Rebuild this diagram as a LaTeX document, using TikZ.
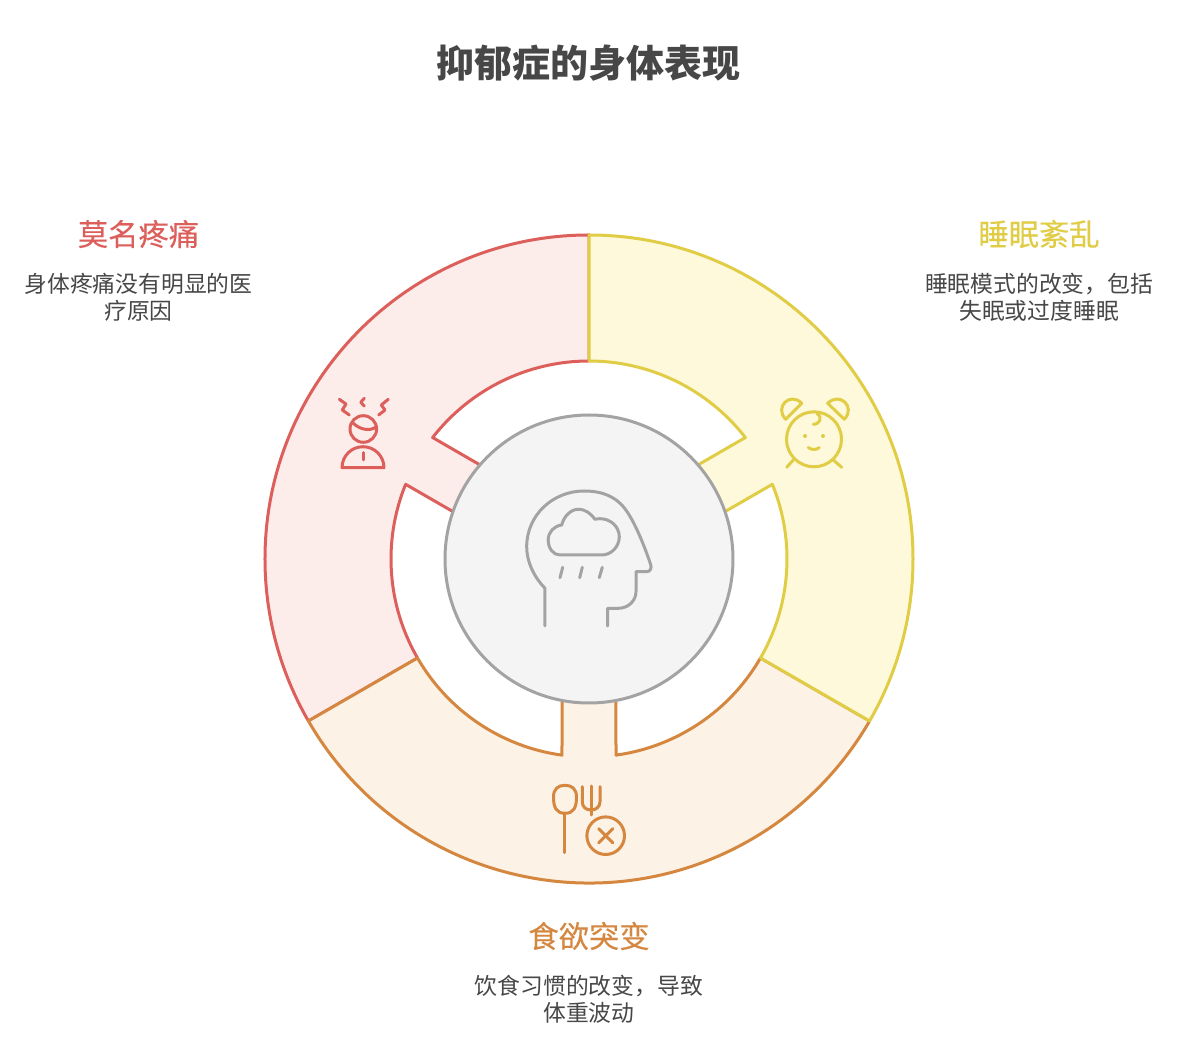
\documentclass[tikz,border=0pt]{standalone}
\usepackage{fontspec}
\setmainfont{Noto Sans CJK SC}
\newfontfamily\headfont[FakeBold=0.25]{Noto Sans CJK SC}
\definecolor{redline}{HTML}{DD5F5C}
\definecolor{redfill}{HTML}{FCEDEB}
\definecolor{yellowline}{HTML}{E0CC45}
\definecolor{yellowfill}{HTML}{FEF9DB}
\definecolor{orangeline}{HTML}{D5873F}
\definecolor{orangefill}{HTML}{FCF2E6}
\definecolor{greyline}{HTML}{A3A3A3}
\definecolor{greyfill}{HTML}{F4F4F4}
\definecolor{inktext}{HTML}{474747}
\tikzset{
  sector/.style={line width=3pt,line join=round},
  icon/.style={line width=3pt,line cap=round,line join=round},
  heading/.style={font=\fontsize{30.3}{30.3}\headfont},
  blurb/.style={font=\fontsize{22.8}{27}\selectfont,text=inktext,align=center},
}

\begin{document}
\begin{tikzpicture}[x=1pt,y=1pt]
  \useasboundingbox (-589,-505) rectangle (599,559);
  \fill[white] (-589,-505) rectangle (599,559);
  % title
  \node[font=\fontsize{38}{38}\selectfont\bfseries,text=inktext] (title) at (0,496) {抑郁症的身体表现};
  % red sector
  \draw[sector,draw=redline,fill=redfill] (90:324) arc[start angle=90,end angle=210,radius=324]
    -- (210:198) arc[start angle=210,end angle=157.84,radius=198]
    -- (160.8:144) -- (139.2:144)
    -- (142.16:198) arc[start angle=142.16,end angle=90,radius=198] -- cycle;
  % orange sector
  \draw[sector,draw=orangeline,fill=orangefill] (210:324) arc[start angle=210,end angle=330,radius=324]
    -- (330:198) arc[start angle=330,end angle=277.84,radius=198]
    -- (280.8:144) -- (259.2:144)
    -- (262.16:198) arc[start angle=262.16,end angle=210,radius=198] -- cycle;
  % yellow sector
  \draw[sector,draw=yellowline,fill=yellowfill] (90:324) arc[start angle=90,end angle=-30,radius=324]
    -- (-30:198) arc[start angle=-30,end angle=22.16,radius=198]
    -- (19.2:144) -- (40.8:144)
    -- (37.84:198) arc[start angle=37.84,end angle=90,radius=198] -- cycle;
  % centre
  \draw[sector,draw=greyline,fill=greyfill] (0,0) circle (144);
  % head
  \draw[icon,greyline] (-44,-67) -- (-44,-29.3) .. controls (-55,-18) and (-62.3,-3) .. (-62.3,12.3)
    .. controls (-62.3,44) and (-36,68) .. (-5,68) .. controls (14,68) and (26,62) .. (34.3,52.3)
    .. controls (44,41) and (54,17) .. (61.5,-5) .. controls (63,-9) and (61.5,-12.7) .. (57.5,-12.7)
    -- (47,-12.7) -- (47,-32.7) .. controls (47,-42) and (39,-49.3) .. (29.3,-49.3)
    -- (18.7,-49.3) -- (18.7,-67);
  \draw[icon,greyline] (-29,4) .. controls (-36,4) and (-40.8,11) .. (-40.8,19)
    .. controls (-40.8,27) and (-35,33) .. (-27.3,34) .. controls (-25,43) and (-18,49.7) .. (-10.7,49.7)
    .. controls (-3,49.7) and (2,45) .. (6,39.7) .. controls (7,40) and (9,40.3) .. (11,40.3)
    .. controls (22,40.3) and (30.3,32) .. (30.3,22.3) .. controls (30.3,12) and (22,4) .. (12.7,4) -- cycle;
  \draw[icon,greyline] (-26.3,-8.3) -- (-29,-18.7);
  \draw[icon,greyline] (-6.7,-8.3) -- (-9.3,-18.7);
  \draw[icon,greyline] (13.3,-8.3) -- (10.3,-18.7);
  % pain icon
  \begin{scope}[shift={(-226,130)},icon,redline]
    \draw (0.3,0) circle (13.3);
    \draw (-10,6) .. controls (-4,0) and (6,-3) .. (13,2);
    \draw (-21,-38.7) arc[start angle=180,end angle=0,radius=21] -- cycle;
    \draw (0.7,-23.7) -- (0.7,-31);
    \draw (-23.7,29.7) -- (-17,25) -- (-20.7,19) -- (-13.7,14);
    \draw (1.3,30.7) -- (-2.3,26.7) -- (1.3,23);
    \draw (25.3,29.7) -- (18.3,24) -- (22,19) -- (15.7,14);
  \end{scope}
  % clock icon
  \begin{scope}[shift={(225,119.7)},icon,yellowline]
    \draw (0,0) circle (27.5);
    \draw (-28.3,20) .. controls (-40,32) and (-24,48) .. (-12.3,36) -- cycle;
    \draw (13.7,36) .. controls (26,48) and (42,32) .. (30.3,20) -- cycle;
    \draw (-20.7,-20.7) -- (-27.3,-28);
    \draw (19.3,-20.7) -- (27.7,-28);
    \fill (-9,3.3) circle (2);
    \fill (9,3.3) circle (2);
    \draw (-5.7,-8.3) .. controls (-2,-10.8) and (2,-10.8) .. (5.3,-8.3);
    \draw (2.7,26) .. controls (9,22) and (6,15) .. (-0.7,15);
  \end{scope}
  % food icon
  \begin{scope}[icon,orangeline]
    \draw (-24,-226.3) .. controls (-31,-226.3) and (-35.5,-230) .. (-35.5,-238)
      .. controls (-35.5,-248) and (-33,-254.3) .. (-24,-254.3)
      .. controls (-15,-254.3) and (-12.5,-248) .. (-12.5,-238)
      .. controls (-12.5,-230) and (-17,-226.3) .. (-24,-226.3) -- cycle;
    \draw (-24,-254.3) -- (-24,-293.7);
    \draw (-6.7,-227.7) -- (-6.7,-242.7) .. controls (-6.7,-248) and (-3,-251) .. (2,-251)
      .. controls (7,-251) and (11,-248) .. (11,-242.7) -- (11,-227.7);
    \draw (2,-227) -- (2,-256);
    \draw (16.7,-276.7) circle (18.8);
    \draw (9.7,-269.7) -- (23.7,-283.7);
    \draw (9.7,-283.7) -- (23.7,-269.7);
  \end{scope}
  % labels
  \node[heading,text=redline] (pain) at (-450.5,325) {莫名疼痛};
  \node[blurb] (painnote) at (-450.5,261.5) {身体疼痛没有明显的医\\疗原因};
  \node[heading,text=yellowline] (sleep) at (450,325) {睡眠紊乱};
  \node[blurb] (sleepnote) at (450,261.5) {睡眠模式的改变，包括\\失眠或过度睡眠};
  \node[heading,text=orangeline] (food) at (0,-377) {食欲突变};
  \node[blurb] (foodnote) at (0,-440.5) {饮食习惯的改变，导致\\体重波动};
\end{tikzpicture}
\end{document}
